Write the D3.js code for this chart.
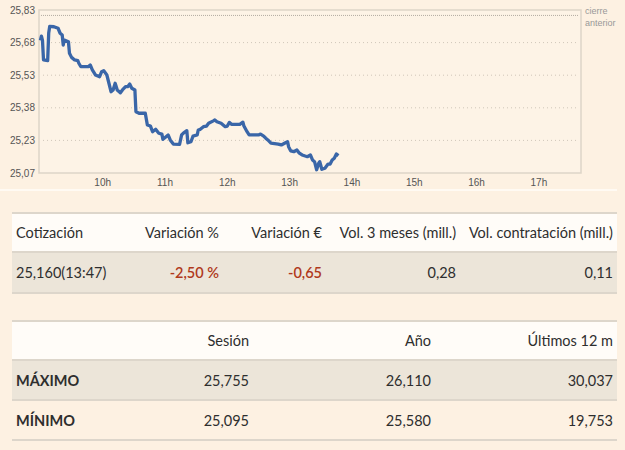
<!DOCTYPE html>
<html>
<head>
<meta charset="utf-8">
<script src="https://cdn.jsdelivr.net/npm/d3@7"></script>
<style>
  body { margin: 0; background: #fdf1e2; font-family: Lato, "Open Sans", sans-serif; color: #2e2e2e; }
  #chart { position: absolute; left: 0; top: 0; }
  .tbl { position: absolute; left: 12px; width: 605px; border-collapse: collapse; table-layout: fixed; font-size: 14.5px; }
  .tbl td { padding: 0 4px; white-space: nowrap; }
  .tbl tr { border-top: 2px solid #ddd6cb; }
  .tbl tr:last-child { border-bottom: 2px solid #ddd6cb; }
  .tbl tr.head { background: #fffcf8; }
  .tbl tr.shade { background: #ece5d9; }
  .num { text-align: right; }
  .neg { color: #b0391c; font-weight: 600; }
  .lab { font-weight: bold; }
</style>
</head>
<body>
<svg id="chart" width="625" height="200"></svg>
<table class="tbl" id="t1" style="top:212px"></table>
<table class="tbl" id="t2" style="top:320px"></table>
<script>
"use strict"
// intraday quotes (hh:mm, price)
const times = ["9:00","9:01","9:02","9:03","9:07","9:08","9:09","9:13","9:17","9:19","9:21","9:22","9:23","9:27","9:28","9:30","9:33","9:36","9:37","9:39",
  "9:46","9:48","9:50","9:53","9:57","9:59","10:01","10:04","10:06","10:08","10:10","10:12","10:14","10:17","10:19","10:22","10:24","10:26","10:28","10:31",
  "10:32","10:35","10:41","10:43","10:46","10:48","10:51","10:54","10:57","10:58","11:01","11:03","11:05","11:08","11:14","11:16","11:18","11:21","11:22","11:25",
  "11:27","11:31","11:32","11:34","11:37","11:40","11:42","11:47","11:48","11:50","11:54","11:58","12:00","12:02","12:04","12:12","12:15","12:16","12:19","12:21",
  "12:30","12:32","12:35","12:37","12:39","12:42","12:49","12:52","12:56","12:58","12:59","13:01","13:04","13:07","13:09","13:12","13:15","13:17","13:20","13:22",
  "13:24","13:26","13:28","13:29","13:31","13:34","13:37","13:39","13:41","13:43","13:45","13:47"];
const prices = [25.69,25.71,25.69,25.60,25.597,25.724,25.755,25.753,25.746,25.723,25.715,25.669,25.692,25.684,25.631,25.612,25.600,25.597,25.585,25.569,
  25.569,25.577,25.554,25.531,25.523,25.546,25.551,25.531,25.493,25.454,25.462,25.493,25.462,25.449,25.462,25.477,25.477,25.489,25.470,25.462,
  25.362,25.355,25.355,25.301,25.296,25.270,25.281,25.263,25.259,25.235,25.247,25.255,25.232,25.213,25.212,25.255,25.265,25.275,25.219,25.224,
  25.250,25.255,25.278,25.281,25.293,25.296,25.309,25.321,25.324,25.316,25.309,25.293,25.296,25.313,25.304,25.304,25.314,25.296,25.270,25.255,
  25.255,25.259,25.250,25.240,25.232,25.217,25.213,25.209,25.219,25.224,25.201,25.182,25.178,25.186,25.173,25.163,25.158,25.155,25.163,25.140,
  25.132,25.095,25.125,25.132,25.097,25.102,25.121,25.121,25.140,25.148,25.167,25.160];
const prevClose = 25.805;
const yTicks = [25.83, 25.68, 25.53, 25.38, 25.23, 25.08];
const yTickLabels = ["25,83","25,68","25,53","25,38","25,23","25,07"];
const xTicks = [10, 11, 12, 13, 14, 15, 16, 17];

// tables
const quoteHead = ["Cotización","Variación %","Variación €","Vol. 3 meses (mill.)","Vol. contratación (mill.)"];
const quoteRow = ["25,160(13:47)","-2,50 %","-0,65","0,28","0,11"];
const rangeHead = ["","Sesión","Año","Últimos 12 m"];
const rangeLabels = ["MÁXIMO","MÍNIMO"];
const rangeSesion = ["25,755","25,095"];
const rangeAno = ["26,110","25,580"];
const range12m = ["30,037","19,753"];

const toMin = t => { const p = t.split(":"); return +p[0] * 60 + +p[1]; };

const svg = d3.select("#chart");
const L = 39, R = 581, T = 10, B = 173;
const x = d3.scaleLinear().domain([540, 1060]).range([40.4, 580.4]);
const y = d3.scaleLinear().domain([25.08, 25.83]).range([B, T]);

svg.append("rect").attr("x", L).attr("y", T).attr("width", R - L).attr("height", B - T)
  .attr("fill", "#fdf3e6").attr("stroke", "#ddd5c8").attr("stroke-width", 1.5);

svg.selectAll("line.grid").data(yTicks.slice(1, 5)).enter().append("line")
  .attr("class", "grid")
  .attr("x1", L + 4).attr("x2", R - 4)
  .attr("y1", d => y(d)).attr("y2", d => y(d))
  .attr("stroke", "#cfc6b9").attr("stroke-dasharray", "1,3");

svg.append("line").attr("x1", L + 2).attr("x2", R - 2)
  .attr("y1", y(prevClose)).attr("y2", y(prevClose))
  .attr("stroke", "#b3aca3").attr("stroke-dasharray", "1,1");

svg.selectAll("text.ylab").data(yTicks).enter().append("text")
  .attr("class", "ylab")
  .attr("x", 35).attr("y", d => y(d) + 3.5)
  .attr("text-anchor", "end")
  .attr("font-family", "Liberation Sans, Arial, sans-serif").attr("font-size", 10).attr("fill", "#555")
  .text((d, i) => yTickLabels[i]);

svg.selectAll("text.xlab").data(xTicks).enter().append("text")
  .attr("class", "xlab")
  .attr("x", d => x(d * 60)).attr("y", 186)
  .attr("text-anchor", "middle")
  .attr("font-family", "Liberation Sans, Arial, sans-serif").attr("font-size", 10).attr("fill", "#555")
  .text(d => d + "h");

svg.append("text").attr("x", 585).attr("y", 14)
  .attr("font-family", "Liberation Sans, Arial, sans-serif").attr("font-size", 9).attr("fill", "#999")
  .text("cierre");
svg.append("text").attr("x", 585).attr("y", 26)
  .attr("font-family", "Liberation Sans, Arial, sans-serif").attr("font-size", 9).attr("fill", "#999")
  .text("anterior");

svg.append("line").attr("x1", 0).attr("x2", 617).attr("y1", 190).attr("y2", 190)
  .attr("stroke", "#fffaf3").attr("stroke-width", 2);

const pts = times.map((t, i) => [toMin(t), prices[i]]);
svg.append("path").datum(pts)
  .attr("d", d3.line().x(d => x(d[0])).y(d => y(d[1])))
  .attr("fill", "none").attr("stroke", "#3a66a8").attr("stroke-width", 3.3)
  .attr("stroke-linejoin", "round");

// quote table
const t1 = d3.select("#t1");
t1.append("colgroup").selectAll("col").data([98, 113, 103, 134, 157]).enter()
  .append("col").style("width", d => d + "px");
t1.append("tr").attr("class", "head").style("height", "39px")
  .selectAll("td").data(quoteHead).enter().append("td")
  .attr("class", (d, i) => i ? "num" : null).text(d => d);
t1.append("tr").attr("class", "shade").style("height", "41px")
  .selectAll("td").data(quoteRow).enter().append("td")
  .attr("class", (d, i) => i === 0 ? null : (i < 3 ? "num neg" : "num")).text(d => d);

// range table
const t2 = d3.select("#t2");
t2.append("colgroup").selectAll("col").data([118, 123, 182, 182]).enter()
  .append("col").style("width", d => d + "px");
t2.append("tr").attr("class", "head").style("height", "39px")
  .selectAll("td").data(rangeHead).enter().append("td")
  .attr("class", (d, i) => i ? "num" : null).text(d => d);
rangeLabels.forEach((lab, r) => {
  t2.append("tr").attr("class", r === 0 ? "shade" : null).style("height", "40px")
    .selectAll("td").data([lab, rangeSesion[r], rangeAno[r], range12m[r]]).enter().append("td")
    .attr("class", (d, i) => i ? "num" : "lab").text(d => d);
});
</script>
</body>
</html>
